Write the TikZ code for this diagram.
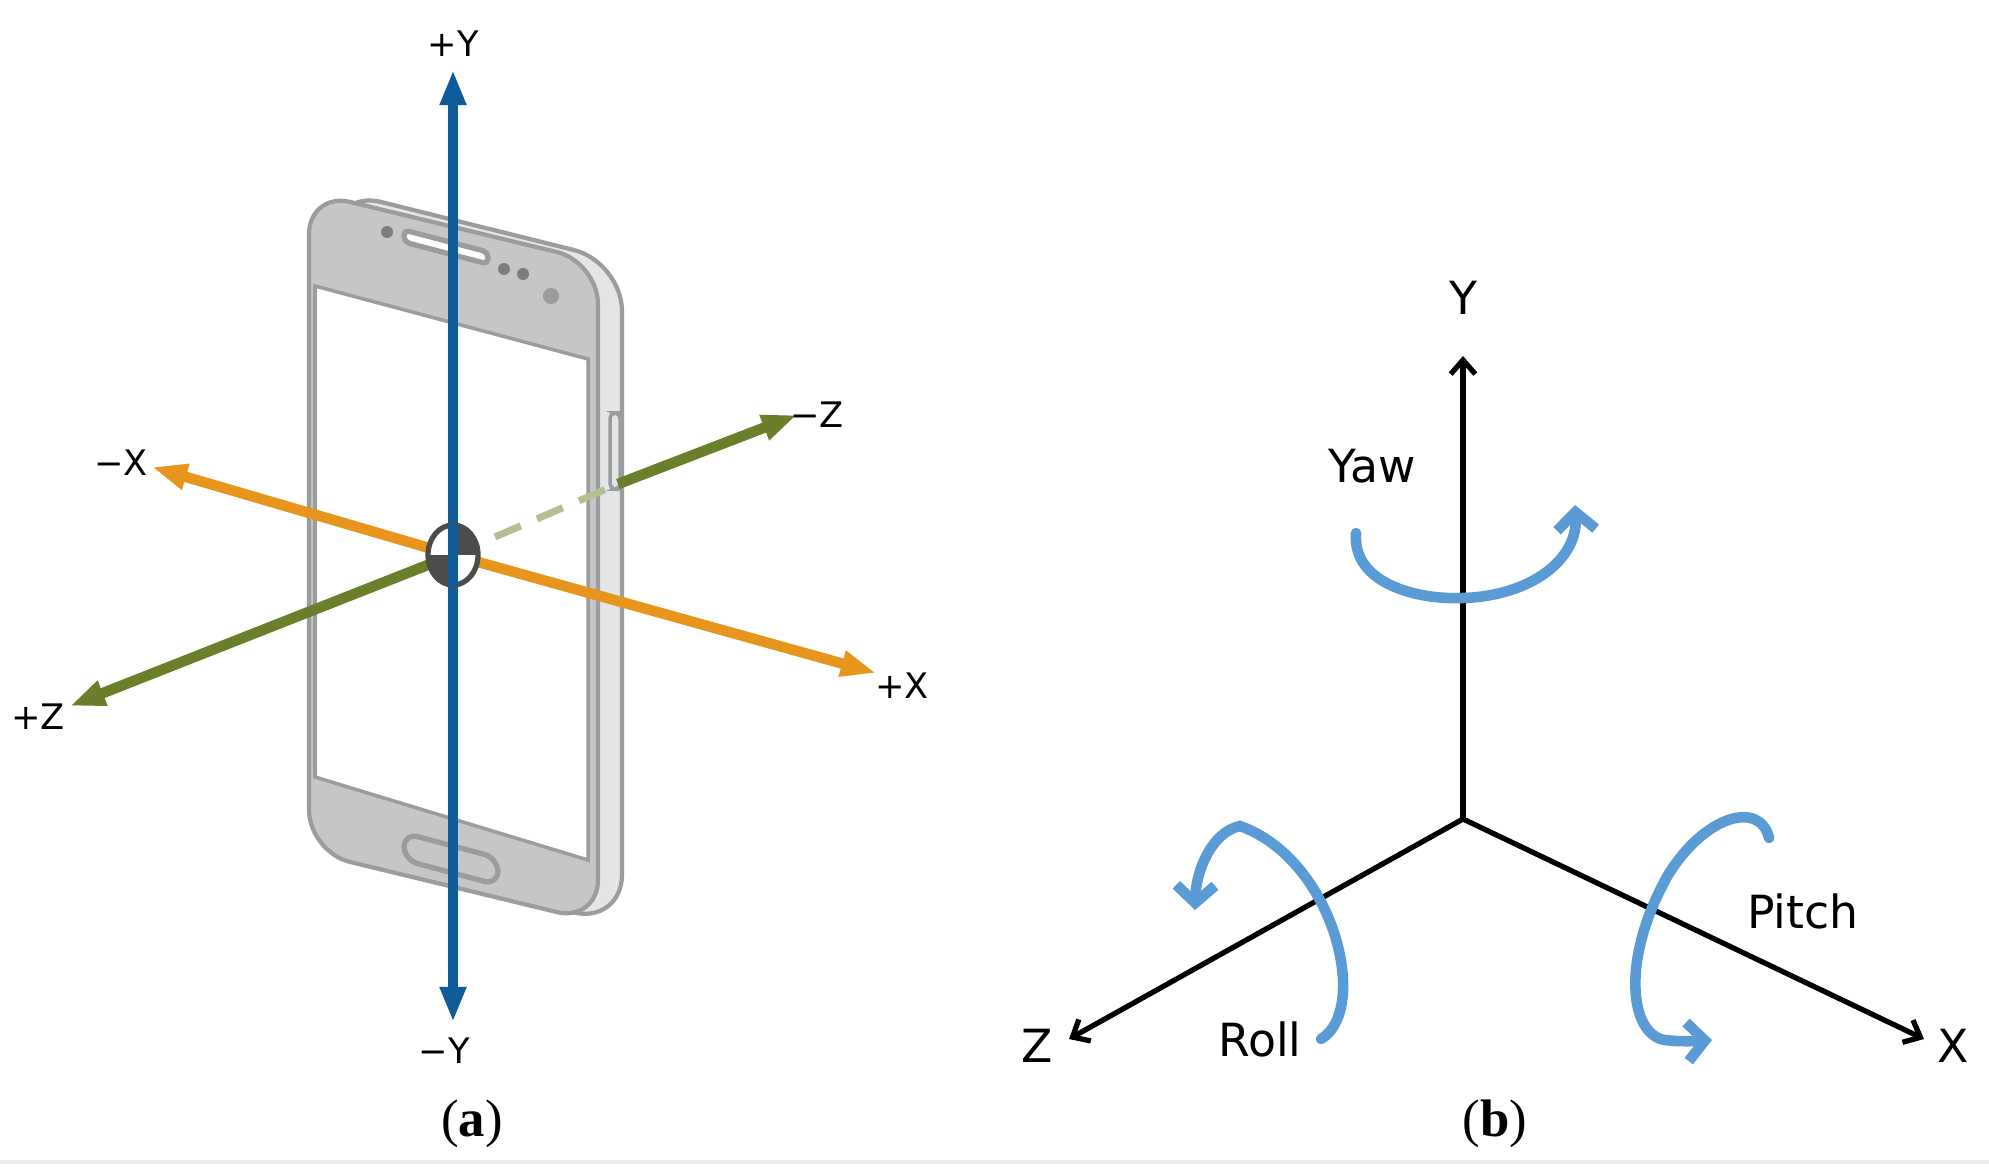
\documentclass[tikz,border=0pt]{standalone}
\usepackage{fontspec}
\setmainfont{Liberation Serif}
\newfontfamily\axfont{DejaVu Sans}
\usetikzlibrary{arrows.meta}
\definecolor{ablue}{HTML}{0F5C9A}
\definecolor{aorange}{HTML}{E8951E}
\definecolor{agreen}{HTML}{6B7F2A}
\definecolor{rblue}{HTML}{5B9BD5}
\definecolor{pface}{HTML}{C4C6C8}
\definecolor{pside}{HTML}{E4E5E6}
\definecolor{pedge}{HTML}{9A9C9E}
\tikzset{
  axl/.style={font=\axfont\fontsize{10}{12}\selectfont},
  rl/.style={font=\axfont\fontsize{13}{15}\selectfont},
  captxt/.style={font=\fontsize{15}{18}\selectfont},
  tri/.style={line width=3pt,-{Triangle[length=10pt,width=7pt]}},
  blk/.style={line width=1.5pt,-{Straight Barb[length=4pt,width=7pt]}},
  rot/.style={rblue,line width=3pt,line cap=round,-{Straight Barb[length=5pt,width=11pt]}}
}
\begin{document}
\begin{tikzpicture}[x=0.01cm,y=-0.01cm]
\useasboundingbox (0,0) rectangle (1989,1173);
\fill[white] (0,0) rectangle (1989,1173);
\draw[black!8,line width=1pt] (0,1162) -- (1989,1162);
% ---------- phone ----------
\filldraw[pside,draw=pedge,line width=1.2pt,rounded corners=14pt]
  (333,190) -- (622,262) -- (622,924) -- (333,854) -- cycle;
\filldraw[pface,draw=pedge,line width=1.2pt,rounded corners=12pt]
  (309,192) -- (598,262) -- (598,922) -- (309,852) -- cycle;
\filldraw[white,draw=pedge,line width=1pt] (315,286) -- (588,359) -- (588,860) -- (315,777) -- cycle;
\filldraw[pside,draw=pedge,line width=1pt,rounded corners=1.5pt] (610,413) rectangle (620,489);
\filldraw[white,draw=pedge,line width=1.5pt,rounded corners=1.5pt] (404,230) -- (488,252) -- (488,264) -- (404,242) -- cycle;
\fill[pedge!80!black] (387,232) circle (6) (504,269) circle (6) (523,274) circle (6);
\fill[pedge] (551,296) circle (8);
\filldraw[pface,draw=pedge,line width=1.5pt,rounded corners=4pt] (404,833) -- (498,858) -- (498,885) -- (404,860) -- cycle;
% ---------- axes ----------
\coordinate (o) at (453,555);
\coordinate (ytop) at (453,70); \coordinate (ybot) at (453,1022);
\coordinate (xm) at (152,467); \coordinate (xp) at (876,673);
\coordinate (zm) at (797,415); \coordinate (zp) at (70,706);
\coordinate (zs) at (618,484);
\draw[agreen!50,line width=2pt,dash pattern=on 8pt off 5pt] (o) -- (zs);
\draw[agreen,tri] (zs) -- (zm);
\draw[aorange,tri] (o) -- (xm);
\draw[aorange,tri] (o) -- (xp);
\draw[agreen,tri] (o) -- (zp);
\draw[ablue,tri] (o) -- (ytop);
\draw[ablue,tri] (o) -- (ybot);
\fill[white] (o) ellipse (25 and 30);
\begin{scope}
\clip (o) ellipse (25 and 30);
\fill[black!70] (453,555) rectangle (480,520);
\fill[black!70] (453,555) rectangle (426,590);
\end{scope}
\draw[black!70,line width=1.5pt] (o) ellipse (25 and 30);
\draw[ablue,line width=3pt] (453,524) -- (453,586);
\node[axl] (lyp) at (453,44) {+Y};
\node[axl] (lym) at (444,1051) {−Y};
\node[axl] (lxm) at (121,463) {−X};
\node[axl] (lxp) at (902,686) {+X};
\node[axl] (lzm) at (817,415) {−Z};
\node[axl] (lzp) at (38,717) {+Z};
\node[captxt] (ca) at (472,1124) {(\textbf{a})};
% ---------- right panel ----------
\coordinate (O) at (1463,819);
\coordinate (Y) at (1463,356); \coordinate (Z) at (1069,1039); \coordinate (X) at (1924,1039);
\draw[blk] (O) -- (Y);
\draw[blk] (O) -- (Z);
\draw[blk] (O) -- (X);
\node[rl] (nY) at (1463,298) {Y};
\node[rl] (nZ) at (1037,1046) {Z};
\node[rl] (nX) at (1953,1046) {X};
\node[rl] (nyaw) at (1372,466) {Yaw};
\node[rl] (nroll) at (1260,1039) {Roll};
\node[rl] (npitch) at (1803,911) {Pitch};
\draw[rot] (1356,533) .. controls (1352,585) and (1420,600) .. (1463,598)
  .. controls (1530,596) and (1578,560) .. (1575,505);
\draw[rot] (1321,1039) .. controls (1370,1010) and (1335,860) .. (1240,826)
  .. controls (1212,832) and (1196,870) .. (1195,910);
\draw[rot] (1769,838) .. controls (1760,800) and (1705,815) .. (1668,875)
  .. controls (1620,960) and (1630,1035) .. (1665,1040)
  .. controls (1680,1042) and (1698,1041) .. (1712,1040);
\node[captxt] (cb) at (1495,1124) {(\textbf{b})};
\end{tikzpicture}
\end{document}
